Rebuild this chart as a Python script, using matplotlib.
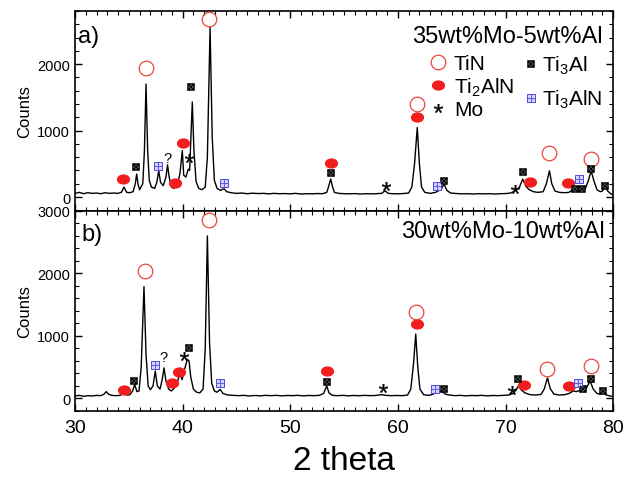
import numpy as np
import matplotlib
matplotlib.use("Agg")
import matplotlib.pyplot as plt
from matplotlib.lines import Line2D
from matplotlib.path import Path
from matplotlib.transforms import Affine2D
from matplotlib.ticker import MultipleLocator

plt.rcParams['font.family'] = ['Liberation Sans', 'DejaVu Sans']
plt.rcParams['mathtext.fontset'] = 'custom'
plt.rcParams['mathtext.rm'] = 'Liberation Sans'
plt.rcParams['mathtext.it'] = 'Liberation Sans:italic'

# ---- traced pattern, panel a) 35wt%Mo-5wt%Al ----
a_2theta = [30.0, 30.4, 30.8, 31.2, 31.6, 32.0, 32.4, 32.8, 33.2, 33.6, 34.0, 34.3, 34.55, 34.8,
            35.1, 35.4, 35.6, 35.73, 35.85, 36.0, 36.3, 36.45, 36.6, 36.75, 36.9, 37.1, 37.4, 37.6,
            37.78, 37.95, 38.2, 38.45, 38.6, 38.75, 38.95, 39.2, 39.5, 39.75, 39.97, 40.1, 40.3,
            40.53, 40.65, 40.75, 40.9, 41.05, 41.25, 41.5, 41.8, 42.1, 42.3, 42.55, 42.75, 42.95,
            43.2, 43.5, 43.85, 44.1, 44.5, 45.0, 45.5, 46.0, 46.5, 47.0, 47.5, 48.0, 48.5, 49.0,
            49.5, 50.0, 50.5, 51.0, 51.5, 52.0, 52.5, 53.0, 53.4, 53.6, 53.76, 53.9, 54.1, 54.5,
            55.0, 55.5, 56.0, 56.5, 57.0, 57.5, 58.0, 58.5, 58.8, 59.1, 59.5, 60.0, 60.5, 61.0,
            61.3, 61.55, 61.8, 62.0, 62.2, 62.5, 63.0, 63.5, 63.77, 64.0, 64.3, 64.55, 64.9, 65.5,
            66.0, 66.5, 67.0, 67.5, 68.0, 68.5, 69.0, 69.5, 70.0, 70.5, 70.9, 71.3, 71.6, 71.9,
            72.2, 72.6, 73.0, 73.5, 73.8, 74.08, 74.3, 74.6, 75.0, 75.5, 75.9, 76.2, 76.5, 76.8,
            77.1, 77.4, 77.7, 77.96, 78.2, 78.5, 78.8, 79.0, 79.26, 79.5, 79.8, 80.0]
a_counts = [55, 70, 50, 65, 55, 60, 50, 65, 55, 60, 55, 70, 150, 70,
            65, 80, 200, 345, 200, 110, 200, 700, 1700, 700, 250, 150, 130, 220,
            395, 220, 170, 300, 485, 300, 150, 130, 180, 350, 700, 330, 300,
            420, 400, 800, 1430, 700, 230, 130, 110, 150, 600, 2550, 900, 250,
            130, 100, 125, 80, 65, 55, 60, 50, 58, 52, 55, 48, 55, 50,
            52, 48, 55, 45, 50, 48, 52, 50, 70, 180, 270, 170, 70, 55,
            50, 48, 52, 45, 50, 48, 50, 55, 95, 55, 50, 48, 52, 60,
            150, 500, 1045, 500, 150, 70, 55, 70, 95, 110, 195, 100, 60, 52,
            48, 50, 45, 50, 48, 50, 45, 50, 52, 60, 95, 150, 270, 160,
            110, 80, 70, 80, 200, 395, 200, 90, 70, 65, 70, 110, 130, 110,
            140, 120, 250, 395, 250, 110, 80, 90, 170, 90, 45, 40]

# ---- traced pattern, panel b) 30wt%Mo-10wt%Al ----
b_2theta = [30.0, 30.4, 30.8, 31.2, 31.6, 32.0, 32.4, 32.7, 32.9, 33.1, 33.4, 33.8, 34.2, 34.55,
            34.8, 35.1, 35.35, 35.55, 35.75, 35.95, 36.15, 36.41, 36.6, 36.8, 37.0, 37.25, 37.46,
            37.65, 37.9, 38.1, 38.27, 38.45, 38.7, 38.95, 39.2, 39.5, 39.76, 39.95, 40.15, 40.44,
            40.6, 40.75, 41.0, 41.3, 41.6, 41.9, 42.1, 42.3, 42.5, 42.7, 42.95, 43.2, 43.48, 43.75,
            44.2, 44.7, 45.2, 45.7, 46.2, 46.7, 47.2, 47.7, 48.2, 48.7, 49.2, 49.7, 50.2, 50.7,
            51.2, 51.7, 52.2, 52.7, 53.1, 53.39, 53.6, 53.9, 54.4, 54.9, 55.4, 55.9, 56.4, 56.9,
            57.4, 57.9, 58.5, 58.9, 59.4, 59.9, 60.4, 60.9, 61.2, 61.45, 61.66, 61.85, 62.05, 62.4,
            62.9, 63.3, 63.55, 63.8, 64.1, 64.4, 64.8, 65.3, 65.8, 66.3, 66.8, 67.3, 67.8, 68.3,
            68.8, 69.3, 69.8, 70.3, 70.7, 71.0, 71.2, 71.45, 71.8, 72.3, 72.8, 73.3, 73.6, 73.9,
            74.15, 74.5, 75.0, 75.5, 75.9, 76.3, 76.6, 76.9, 77.2, 77.5, 77.86, 78.15, 78.5, 78.8,
            79.04, 79.3, 79.7, 80.0]
b_counts = [40, 50, 35, 45, 40, 50, 45, 70, 110, 70, 50, 45, 50, 100,
            55, 60, 120, 225, 110, 120, 500, 1790, 700, 200, 140, 200, 440,
            200, 150, 300, 490, 280, 150, 120, 160, 250, 415, 300, 450, 625,
            600, 350, 150, 100, 90, 150, 800, 2600, 900, 250, 120, 100, 145, 80,
            55, 50, 45, 50, 40, 48, 42, 50, 45, 50, 42, 48, 45, 50,
            42, 48, 45, 50, 80, 200, 90, 50, 45, 50, 42, 48, 44, 50,
            45, 48, 60, 50, 45, 48, 45, 55, 150, 550, 1030, 500, 150, 60,
            50, 70, 115, 100, 115, 70, 55, 45, 50, 42, 48, 45, 50, 42,
            48, 45, 50, 55, 80, 140, 200, 140, 90, 60, 55, 65, 150, 330,
            160, 70, 55, 60, 80, 120, 110, 130, 110, 160, 280, 150, 80, 70,
            115, 60, 40, 35]

# ---- phase marks (2theta, counts) ----
a_tin_x, a_tin_y = [36.6, 42.48, 61.8, 74.05, 77.96], [1935, 2677, 1398, 662, 571]
a_ti2aln_x, a_ti2aln_y = [34.49, 39.29, 40.0, 53.76, 61.8, 72.29, 75.85], [266, 210, 807, 506, 1198, 221, 210]
a_ti3al_x, a_ti3al_y = [35.67, 40.78, 53.76, 64.3, 71.67, 76.5, 77.1, 77.96, 79.26], [446, 1650, 356, 245, 371, 120, 120, 420, 170]
a_ti3aln_x, a_ti3aln_y = [37.74, 43.85, 63.6, 76.8], [461, 210, 160, 276]
a_mo_x, a_mo_y = [40.6, 58.9, 70.9], [582, 160, 120]
a_q_x, a_q_y = [38.61], [586]

b_tin_x, b_tin_y = [36.5, 42.48, 61.69, 73.9, 77.92], [2034, 2862, 1391, 476, 519]
b_ti2aln_x, b_ti2aln_y = [34.55, 39.05, 39.67, 53.45, 61.75, 71.76, 75.94], [133, 240, 422, 438, 1188, 209, 198]
b_ti3al_x, b_ti3al_y = [35.51, 40.6, 53.45, 64.3, 71.2, 77.24, 77.92, 79.04], [278, 813, 262, 145, 305, 145, 316, 117]
b_ti3aln_x, b_ti3aln_y = [37.4, 43.48, 63.46, 76.72], [535, 252, 155, 252]
b_mo_x, b_mo_y = [40.16, 58.6, 70.58], [680, 171, 133]
b_q_x, b_q_y = [38.2], [663]

red = '#f21d1d'
blue = '#4b4be6'
ellipse = Path.unit_circle().transformed(Affine2D().scale(1.0, 0.75))

tin_style = dict(ls='none', marker='o', ms=10.5, mfc='none', mec='#e8463e', mew=0.9)
ti2aln_style = dict(ls='none', marker=ellipse, ms=8.5, mfc=red, mec=red)
ti3al_box = dict(ls='none', marker='s', ms=5.0, mfc='#bbbbbb', mec='black', mew=1.1)
ti3al_x = dict(ls='none', marker='x', ms=3.8, mec='black', mew=1.1)
ti3aln_box = dict(ls='none', marker='s', ms=5.6, mfc='#d4d4ff', mec=blue, mew=0.7)
ti3aln_plus = dict(ls='none', marker='+', ms=5.6, mec=blue, mew=0.6)
mo_style = dict(ls='none', marker='$*$', ms=6.5, mfc='black', mec='black', mew=0.2)


def draw_panel(ax, x, y, tin, ti2aln, ti3al, ti3aln, mo, q):
    ax.plot(x, y, color='black', lw=1.0, zorder=2)
    ax.plot(*tin, zorder=3, **tin_style)
    ax.plot(*ti2aln, zorder=3, **ti2aln_style)
    ax.plot(*ti3al, zorder=3, **ti3al_box)
    ax.plot(*ti3al, zorder=4, **ti3al_x)
    ax.plot(*ti3aln, zorder=3, **ti3aln_box)
    ax.plot(*ti3aln, zorder=4, **ti3aln_plus)
    ax.plot(*mo, zorder=3, **mo_style)
    for qx, qy in zip(*q):
        ax.text(qx, qy, '?', fontsize=10.5, ha='center', va='center')
    ax.set_xlim(30, 80)
    ax.xaxis.set_major_locator(MultipleLocator(10))
    ax.xaxis.set_minor_locator(MultipleLocator(1))
    ax.yaxis.set_major_locator(MultipleLocator(1000))
    ax.yaxis.set_minor_locator(MultipleLocator(200))
    ax.tick_params(which='both', direction='in', top=True, right=True)
    ax.tick_params(which='major', length=5, width=1.0, labelsize=10.5)
    ax.tick_params(which='minor', length=3, width=0.8)
    ax.tick_params(axis='x', which='major', labelsize=14, pad=6)
    for s in ax.spines.values():
        s.set_linewidth(1.2)
    ax.set_ylabel('Counts', fontsize=12, labelpad=4)


fig = plt.figure(figsize=(6.25, 4.81), dpi=100)
ax1 = fig.add_axes([0.12, 0.5593, 0.861, 0.4158])
ax2 = fig.add_axes([0.12, 0.1435, 0.861, 0.4158])

draw_panel(ax1, a_2theta, a_counts, (a_tin_x, a_tin_y), (a_ti2aln_x, a_ti2aln_y),
           (a_ti3al_x, a_ti3al_y), (a_ti3aln_x, a_ti3aln_y), (a_mo_x, a_mo_y), (a_q_x, a_q_y))
draw_panel(ax2, b_2theta, b_counts, (b_tin_x, b_tin_y), (b_ti2aln_x, b_ti2aln_y),
           (b_ti3al_x, b_ti3al_y), (b_ti3aln_x, b_ti3aln_y), (b_mo_x, b_mo_y), (b_q_x, b_q_y))

ax1.set_ylim(-210, 2800)
ax2.set_ylim(-200, 3000)
ax1.tick_params(axis='x', labelbottom=False)
ax1.set_yticks([0, 1000, 2000])
ax1.yaxis.set_minor_locator(MultipleLocator(200))
ax2.set_xlabel('2 theta', fontsize=24, labelpad=6)

ax1.text(0.006, 0.93, 'a)', transform=ax1.transAxes, fontsize=17, va='top', ha='left')
ax1.text(0.98, 0.93, '35wt%Mo-5wt%Al', transform=ax1.transAxes, fontsize=17, va='top', ha='right')
ax2.text(0.012, 0.94, 'b)', transform=ax2.transAxes, fontsize=17, va='top', ha='left')
ax2.text(0.985, 0.955, '30wt%Mo-10wt%Al', transform=ax2.transAxes, fontsize=17, va='top', ha='right')

# legends
h_tin = Line2D([], [], **tin_style)
h_ti2aln = Line2D([], [], **ti2aln_style)
h_mo = Line2D([], [], **mo_style)
h_ti3al = (Line2D([], [], **ti3al_box), Line2D([], [], **ti3al_x))
h_ti3aln = (Line2D([], [], **ti3aln_box), Line2D([], [], **ti3aln_plus))

leg1 = ax1.legend([h_tin, h_ti2aln, h_mo], ['TiN', r'Ti$_2$AlN', 'Mo'],
                  loc='upper left', bbox_to_anchor=(0.652, 0.795), frameon=False,
                  fontsize=15, handlelength=1.0, handletextpad=0.25, labelspacing=0.12,
                  borderpad=0.1, borderaxespad=0)
ax1.add_artist(leg1)
ax1.legend([h_ti3al, h_ti3aln], [r'Ti$_3$Al', r'Ti$_3$AlN'],
           loc='upper left', bbox_to_anchor=(0.83, 0.795), frameon=False,
           fontsize=15, handlelength=0.7, handletextpad=0.2, labelspacing=0.55,
           borderpad=0.1, borderaxespad=0)

fig.savefig('out.png', dpi=100)
